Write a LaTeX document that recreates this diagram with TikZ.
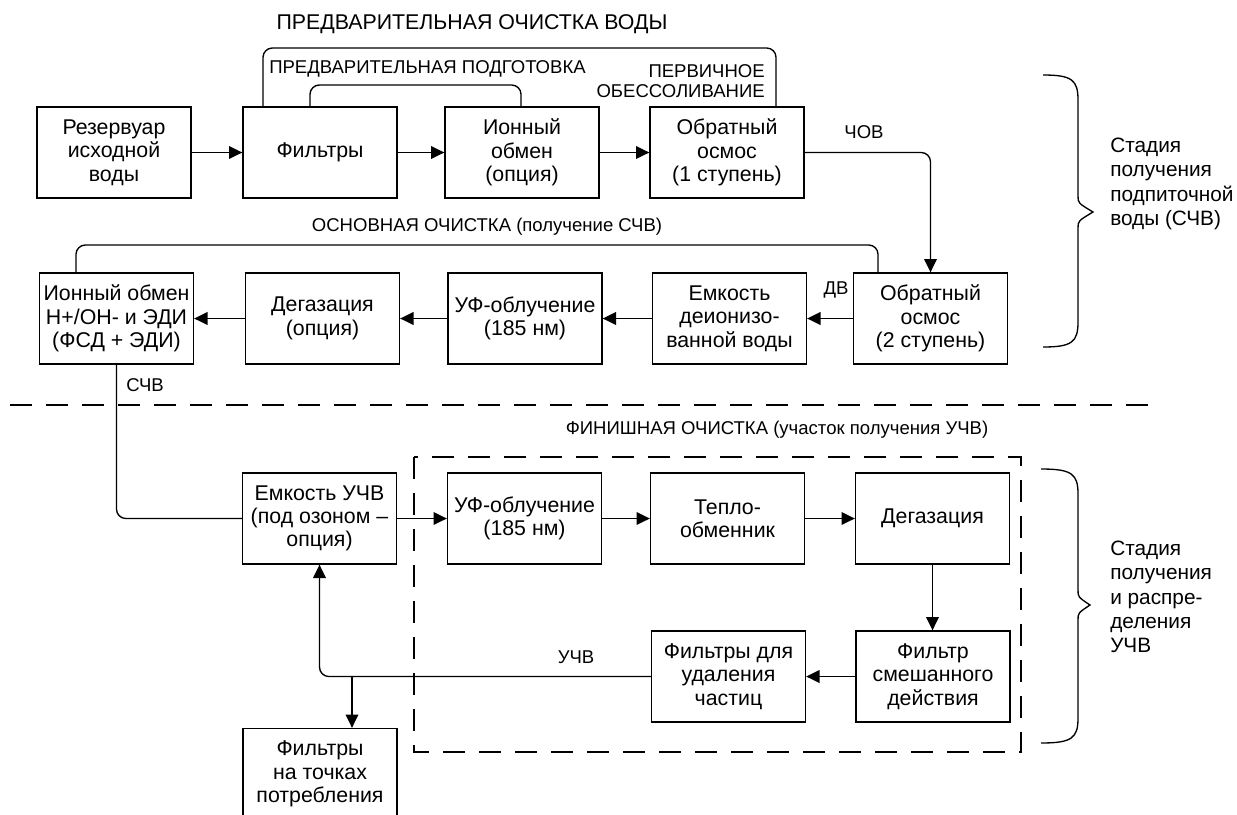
\documentclass[tikz,border=0pt]{standalone}
\usepackage{fontspec}
\setmainfont{Liberation Sans}
\usetikzlibrary{arrows.meta,calc}
\begin{document}
\begin{tikzpicture}[x=0.75pt,y=-0.75pt,
 box/.style={draw,line width=1pt,minimum width=115.5pt,minimum height=68.25pt,inner sep=0pt,align=center,font=\fontsize{16}{17.5}\selectfont},
 conn/.style={line width=1pt,rounded corners=7pt,-{Triangle[length=10pt,width=9.5pt]}},
 link/.style={line width=1pt,rounded corners=7pt},
 lbl/.style={font=\fontsize{13.9}{15}\selectfont,inner sep=0pt},
 ttl/.style={font=\fontsize{16}{18}\selectfont,inner sep=0pt},
 rlbl/.style={font=\fontsize{15.6}{18.3}\selectfont,inner sep=0pt,align=left,anchor=west},
 dsh/.style={line width=1pt,dash pattern=on 16.5pt off 10.5pt},
 brace/.style={line width=1pt}]
\useasboundingbox (0,0) rectangle (1237,814);
\clip (0,0) rectangle (1237,814);
% row 1
\node[box] (res) at (114,152.5) {Резервуар\\исходной\\воды};
\node[box] (fil) at (320,152.5) {Фильтры};
\node[box] (ion1) at (522,152.5) {Ионный\\обмен\\(опция)};
\node[box] (ro1) at (727,152.5) {Обратный\\осмос\\(1 ступень)};
% row 2
\node[box] (ion2) at (116.5,318.5) {Ионный обмен\\Н+/ОН- и ЭДИ\\(ФСД + ЭДИ)};
\node[box] (deg1) at (322.5,318.5) {Дегазация\\(опция)};
\node[box] (uv1) at (525,318.5) {УФ-облучение\\(185 нм)};
\node[box] (tank) at (729.5,318.5) {Емкость\\деионизо-\\ванной воды};
\node[box] (ro2) at (930.5,318.5) {Обратный\\осмос\\(2 ступень)};
% row 3
\node[box] (tanku) at (319.5,518.5) {Емкость УЧВ\\(под озоном –\\опция)};
\node[box] (uv2) at (524.5,518.5) {УФ-облучение\\(185 нм)};
\node[box] (heat) at (727.5,518.5) {Тепло-\\обменник};
\node[box] (deg2) at (932.5,518.5) {Дегазация};
% row 4
\node[box] (mix) at (933,676.5) {Фильтр\\смешанного\\действия};
\node[box] (part) at (728.5,676.5) {Фильтры для\\удаления\\частиц};
\node[box] (pou) at (320,774) {Фильтры\\на точках\\потребления};
% connectors
\draw[conn] (res) -- (fil);
\draw[conn] (fil) -- (ion1);
\draw[conn] (ion1) -- (ro1);
\draw[conn] (ro1.east) -| (ro2.north);
\draw[conn] (ro2) -- (tank);
\draw[conn] (tank) -- (uv1);
\draw[conn] (uv1) -- (deg1);
\draw[conn] (deg1) -- (ion2);
\draw[link] (ion2.south) |- (tanku.west);
\draw[conn] (tanku) -- (uv2);
\draw[conn] (uv2) -- (heat);
\draw[conn] (heat) -- (deg2);
\draw[conn] (deg2.south) -- (deg2.south |- mix.north);
\draw[conn] (mix) -- (part);
\draw[conn] (part.west) -| (tanku.south);
\coordinate (jn) at (352,0);
\draw[conn] (part.west -| jn) -- (jn |- pou.north);
% brackets
\coordinate (b1) at (263,48); \coordinate (b2) at (776,48);
\draw[link] (fil.north -| b1) -- (b1) -- (b2) -- (ro1.north -| b2);
\coordinate (b3) at (310,85); \coordinate (b4) at (521,85);
\draw[link] (fil.north -| b3) -- (b3) -- (b4) -- (ion1.north -| b4);
\coordinate (b5) at (76,245); \coordinate (b6) at (878,245);
\draw[link] (ion2.north -| b5) -- (b5) -- (b6) -- (ro2.north -| b6);
% labels
\node[ttl] (t1) at (472,24) {ПРЕДВАРИТЕЛЬНАЯ ОЧИСТКА ВОДЫ};
\node[lbl,anchor=west] (t2) at (269,69) {ПРЕДВАРИТЕЛЬНАЯ ПОДГОТОВКА};
\node[lbl,anchor=east,align=right] (t3) at (765,81) {ПЕРВИЧНОЕ\\ОБЕССОЛИВАНИЕ};
\node[lbl] (t4) at (864,132) {ЧОВ};
\node[lbl] (t5) at (487,227) {ОСНОВНАЯ ОЧИСТКА (получение СЧВ)};
\node[lbl] (t6) at (836,290) {ДВ};
\node[lbl] (t7) at (145,385) {СЧВ};
\node[lbl] (t8) at (777,430) {ФИНИШНАЯ ОЧИСТКА (участок получения УЧВ)};
\node[lbl] (t9) at (576,657) {УЧВ};
\node[rlbl] (r1) at (1110,184) {Стадия\\получения\\подпиточной\\воды (СЧВ)};
\node[rlbl] (r2) at (1110,597) {Стадия\\получения\\и распре-\\деления\\УЧВ};
% dashed
\draw[dsh] (10,405) -- (1160,405);
\draw[dsh] (414,457) rectangle (1021,752);
% braces
\draw[brace] (1043,75) .. controls (1072,75) and (1078,80) .. (1078,100) -- (1078,196) .. controls (1078,203) .. (1093,212) .. controls (1078,221) .. (1078,228) -- (1078,322) .. controls (1078,342) and (1072,347) .. (1043,347);
\draw[brace] (1041,469) .. controls (1072,469) and (1078,474) .. (1078,494) -- (1078,590) .. controls (1078,597) .. (1090,605) .. controls (1078,613) .. (1078,620) -- (1078,718) .. controls (1078,738) and (1072,743) .. (1041,743);
\end{tikzpicture}
\end{document}
